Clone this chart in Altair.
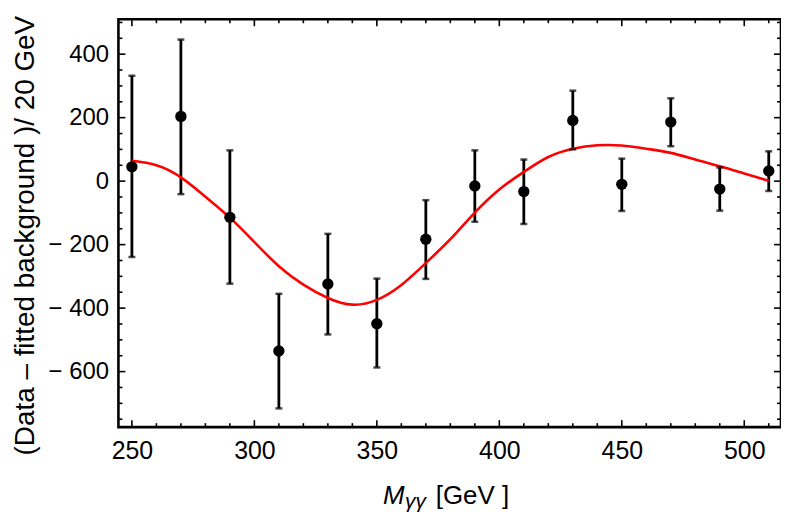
import altair as alt
import pandas as pd

# Measured points (M_gg in GeV) with error bars
mass = [250, 270, 290, 310, 330, 350, 370, 390, 410, 430, 450, 470, 490, 510]
excess = [45, 204, -114, -535, -324, -449, -183, -15, -33, 191, -10, 186, -25, 32]
err_high = [332, 446, 97, -355, -166, -307, -60, 97, 68, 285, 71, 261, 43, 94]
err_low = [-239, -41, -323, -716, -483, -587, -308, -128, -135, 100, -94, 110, -93, -31]

# Fitted curve
fit_mass = [250, 260, 270, 280, 290, 300, 310, 320, 330, 340, 350, 360, 370, 380,
            390, 400, 410, 420, 430, 440, 450, 460, 470, 480, 490, 500, 510]
fit_value = [64, 50, 12, -49, -115, -192, -268, -326, -368, -389, -374, -327, -258, -183,
             -99, -26, 29, 76, 102, 113, 112, 102, 89, 68, 47, 24, 1]

# Axis ticks
x_major = [250, 300, 350, 400, 450, 500]
x_minor = [v for v in range(250, 511, 10) if v not in x_major]
y_major = [-600, -400, -200, 0, 200, 400]
y_minor = [v for v in range(-750, 501, 50) if v not in y_major]

X_DOMAIN = [244.5, 515]
Y_DOMAIN = [-775, 510]
W, H = 666, 410
FONT = "Liberation Sans"

pts = pd.DataFrame({"m": mass, "y": excess, "hi": err_high, "lo": err_low})
fit = pd.DataFrame({"m": fit_mass, "y": fit_value})

xs = alt.Scale(domain=X_DOMAIN, nice=False, zero=False)
ys = alt.Scale(domain=Y_DOMAIN, nice=False, zero=False)

x_axis = alt.Axis(values=x_major, ticks=False, domain=False, grid=False,
                  labelFont=FONT, labelFontSize=25, labelColor="black",
                  labelPadding=12, title=None)
y_axis = alt.Axis(values=y_major, ticks=False, domain=False, grid=False,
                  labelFont=FONT, labelFontSize=24, labelColor="black",
                  labelPadding=10,
                  labelExpr="datum.value < 0 ? '\u2212 ' + format(-datum.value, 'd') : format(datum.value, 'd')",
                  title="(Data \u2013 fitted  background  )/ 20   GeV",
                  titleFont=FONT, titleFontSize=28, titleFontWeight="normal",
                  titleColor="black", titleAngle=270, titleBaseline="top",
                  titleX=-107, titleY=217, titleAlign="center")


def X(field):
    return alt.X(field, scale=xs, axis=x_axis)


def Y(field):
    return alt.Y(field, scale=ys, axis=y_axis)


base = alt.Chart(pts)

bars = base.mark_rule(color="black", strokeWidth=2.8).encode(
    x=X("m:Q"), y=Y("lo:Q"), y2="hi:Q",
)
cap_hi = base.mark_tick(color="black", orient="horizontal", size=7, thickness=2.5).encode(
    x=X("m:Q"), y=Y("hi:Q"),
)
cap_lo = base.mark_tick(color="black", orient="horizontal", size=7, thickness=2.5).encode(
    x=X("m:Q"), y=Y("lo:Q"),
)
line = alt.Chart(fit).mark_line(color="#ff0000", strokeWidth=2.6, interpolate="natural").encode(
    x=X("m:Q"), y=Y("y:Q"),
)
dots = base.mark_point(filled=True, color="black", opacity=1, size=130, shape="circle").encode(
    x=X("m:Q"), y=Y("y:Q"),
)


def xticks(values, length):
    d = alt.Chart(pd.DataFrame({"v": values}))
    bottom = d.mark_rule(color="black", strokeWidth=1.6).encode(
        x=X("v:Q"), y=alt.value(H), y2=alt.value(H - length))
    top = d.mark_rule(color="black", strokeWidth=1.6).encode(
        x=X("v:Q"), y=alt.value(0), y2=alt.value(length))
    return [bottom, top]


def yticks(values, length):
    d = alt.Chart(pd.DataFrame({"v": values}))
    left = d.mark_rule(color="black", strokeWidth=1.6).encode(
        y=Y("v:Q"), x=alt.value(0), x2=alt.value(length))
    right = d.mark_rule(color="black", strokeWidth=1.6).encode(
        y=Y("v:Q"), x=alt.value(W), x2=alt.value(W - length))
    return [left, right]


tick_layers = xticks(x_major, 7) + xticks(x_minor, 4) + yticks(y_major, 7) + yticks(y_minor, 4)

one = pd.DataFrame({"k": [0]})
title_m = alt.Chart(one).mark_text(text="M", font=FONT, fontSize=26, fontStyle="italic",
                                   align="left", baseline="alphabetic", color="black").encode(
    x=alt.value(266), y=alt.value(487))
title_sub = alt.Chart(one).mark_text(text="\u03b3\u03b3", font=FONT, fontSize=21, fontStyle="italic",
                                     align="left", baseline="alphabetic", color="black").encode(
    x=alt.value(288), y=alt.value(491))
title_unit = alt.Chart(one).mark_text(text="[GeV ]", font=FONT, fontSize=26,
                                      align="left", baseline="alphabetic", color="black").encode(
    x=alt.value(319), y=alt.value(487))

chart = alt.layer(
    bars, *tick_layers, line, cap_hi, cap_lo, dots, title_m, title_sub, title_unit
).properties(
    width=W, height=H,
    background="white",
    autosize=alt.AutoSizeParams(type="none"),
    padding={"left": 111, "top": 10, "right": 0, "bottom": 86},
).configure_view(
    stroke="black", strokeWidth=2.6, fill="white"
)

chart.save("out.html", embed_options={"renderer": "svg", "actions": False})
